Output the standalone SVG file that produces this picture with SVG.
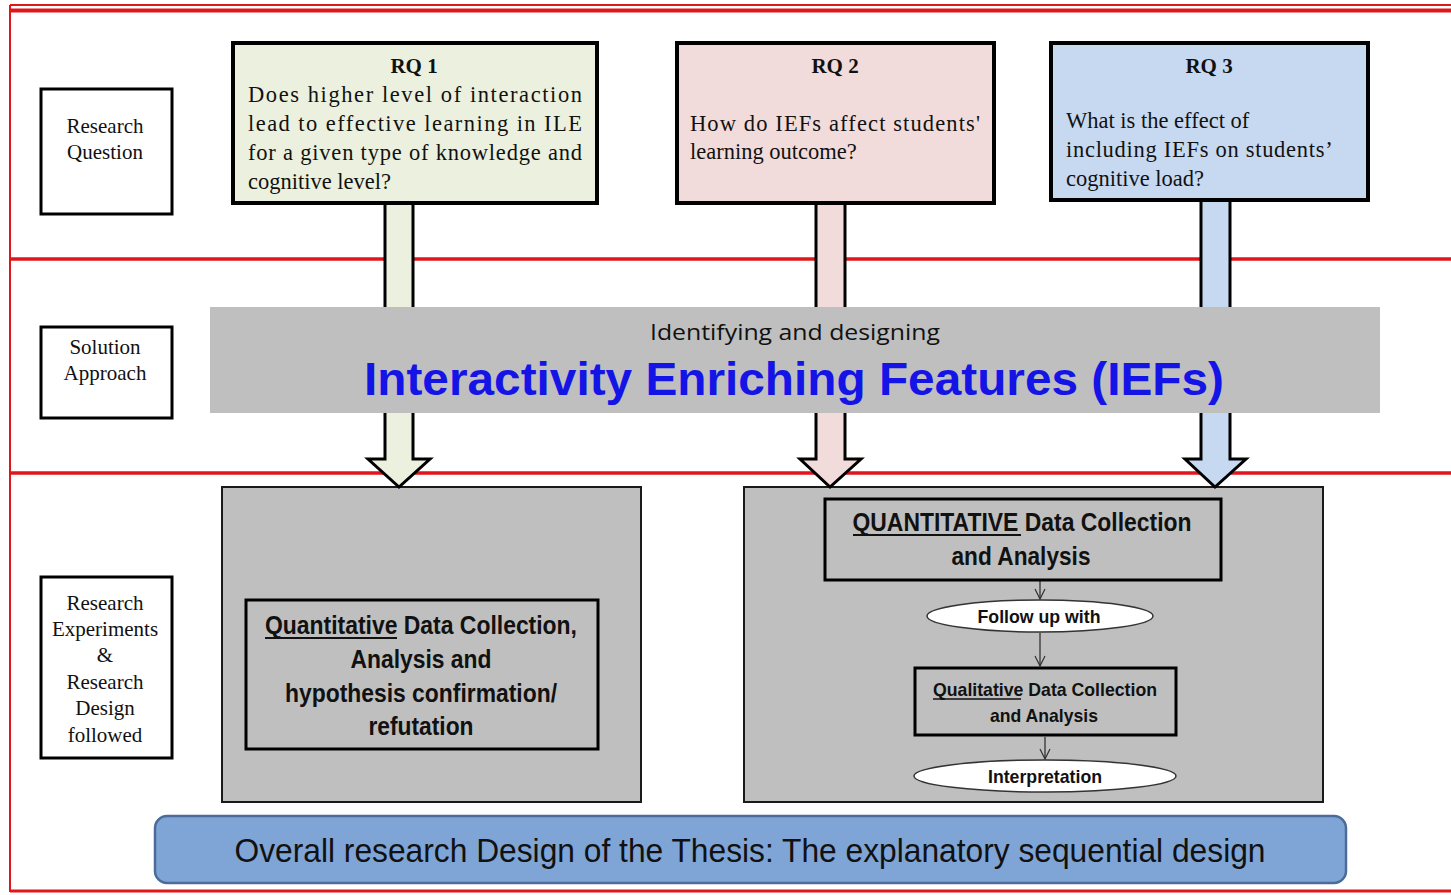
<svg xmlns="http://www.w3.org/2000/svg" width="1451" height="895" viewBox="0 0 1451 895">
  <style>
    .frame { stroke: #e0161b; fill: none; }
    .label { fill: #ffffff; stroke: #000; stroke-width: 3; }
    .serif { font-family: "Liberation Serif", "Times New Roman", serif; fill: #111; }
    .body { font-size: 22.5px; }
    .title { font-size: 21px; font-weight: bold; }
    .sans { font-family: "Liberation Sans", Arial, sans-serif; fill: #111; }
    .rq { stroke: #000; stroke-width: 4; }
    .arrow { stroke: #000; stroke-width: 3; stroke-linejoin: miter; }
    .panel { fill: #bfbfbf; stroke: #1a1a1a; stroke-width: 2; }
    .inner { fill: none; stroke: #000; stroke-width: 3; }
    .oval { fill: #fff; stroke: #333; stroke-width: 1.5; }
    .thin { stroke: #333; stroke-width: 1.3; fill: none; }
  </style>
  <defs>
    <!-- open V head pointing along the line direction -->
    <marker id="vhead" viewBox="0 0 12 12" refX="11" refY="6" markerWidth="12" markerHeight="12" markerUnits="userSpaceOnUse" orient="auto">
      <path d="M1,1 L11,6 L1,11" fill="none" stroke="#333" stroke-width="1.2"/>
    </marker>
  </defs>

  <rect x="0" y="0" width="1451" height="895" fill="#ffffff"/>

  <!-- page frame and row separators -->
  <g id="frame">
    <line class="frame" x1="10" y1="5" x2="1451" y2="5" stroke-width="2"/>
    <line class="frame" x1="10" y1="10.5" x2="1451" y2="10.5" stroke="#c8191e" stroke-width="4"/>
    <line class="frame" x1="10" y1="5" x2="10" y2="892" stroke-width="2"/>
    <line class="frame" x1="10" y1="891" x2="1451" y2="891" stroke-width="3"/>
    <line class="frame" x1="10" y1="259" x2="1451" y2="259" stroke-width="3.5"/>
    <line class="frame" x1="10" y1="473" x2="1451" y2="473" stroke-width="3.5"/>
  </g>

  <!-- row labels -->
  <g id="label-question">
    <rect class="label" x="41" y="89" width="131" height="125"/>
    <text class="serif" font-size="21" text-anchor="middle"><tspan x="105" y="133">Research</tspan><tspan x="105" y="159">Question</tspan></text>
  </g>
  <g id="label-approach">
    <rect class="label" x="41" y="327" width="131" height="91"/>
    <text class="serif" font-size="21" text-anchor="middle"><tspan x="105" y="354">Solution</tspan><tspan x="105" y="380">Approach</tspan></text>
  </g>
  <g id="label-design">
    <rect class="label" x="41" y="577" width="131" height="181"/>
    <text class="serif" font-size="21" text-anchor="middle"><tspan x="105" y="610">Research</tspan><tspan x="105" y="636">Experiments</tspan><tspan x="105" y="662">&amp;</tspan><tspan x="105" y="689">Research</tspan><tspan x="105" y="715">Design</tspan><tspan x="105" y="742">followed</tspan></text>
  </g>

  <!-- experiment panels -->
  <g id="experiment-quant-panel">
    <rect class="panel" x="222" y="487" width="419" height="315"/>
  </g>
  <g id="experiment-sequential">
    <rect class="panel" x="744" y="487" width="579" height="315"/>
  </g>

  <!-- block arrows from each question down to the experiments, and the step arrows -->
  <g id="connectors">
    <path class="arrow" fill="#ebf1de" d="M385,200 L413,200 L413,459 L430,459 L399,487 L368,459 L385,459 Z"/>
    <path class="arrow" fill="#f2dcdb" d="M816,200 L845,200 L845,459 L861,459 L830,487 L800,459 L816,459 Z"/>
    <path class="arrow" fill="#c6d9f1" d="M1201,198 L1230,198 L1230,459 L1246,459 L1215,487 L1185,459 L1201,459 Z"/>
    <line class="thin" x1="1040" y1="581" x2="1040" y2="599" marker-end="url(#vhead)"/>
    <line class="thin" x1="1040" y1="633" x2="1040" y2="666" marker-end="url(#vhead)"/>
    <line class="thin" x1="1045" y1="737" x2="1045" y2="759" marker-end="url(#vhead)"/>
  </g>

  <!-- research questions (justified lines stretched to the box width) -->
  <g id="rq1">
    <rect class="rq" x="233" y="43" width="364" height="160" fill="#ebf1de"/>
    <text class="serif title" x="414" y="73" text-anchor="middle">RQ 1</text>
    <text class="serif body">
      <tspan x="248" y="102" textLength="334" lengthAdjust="spacing">Does higher level of interaction</tspan>
      <tspan x="248" y="131" textLength="334" lengthAdjust="spacing">lead to effective learning in ILE</tspan>
      <tspan x="248" y="160" textLength="334" lengthAdjust="spacing">for a given type of knowledge and</tspan>
      <tspan x="248" y="189">cognitive level?</tspan>
    </text>
  </g>
  <g id="rq2">
    <rect class="rq" x="677" y="43" width="317" height="160" fill="#f2dcdb"/>
    <text class="serif title" x="835" y="73" text-anchor="middle">RQ 2</text>
    <text class="serif body">
      <tspan x="690" y="131" textLength="290" lengthAdjust="spacing">How do IEFs affect students'</tspan>
      <tspan x="690" y="159">learning outcome?</tspan>
    </text>
  </g>
  <g id="rq3">
    <rect class="rq" x="1051" y="43" width="317" height="157" fill="#c6d9f1"/>
    <text class="serif title" x="1209" y="73" text-anchor="middle">RQ 3</text>
    <text class="serif body">
      <tspan x="1066" y="128">What is the effect of</tspan>
      <tspan x="1066" y="157" textLength="265" lengthAdjust="spacing">including IEFs on students’</tspan>
      <tspan x="1066" y="186">cognitive load?</tspan>
    </text>
  </g>

  <!-- solution approach band -->
  <g id="approach">
    <rect x="210" y="307" width="1170" height="106" fill="#bfbfbf"/>
    <text x="795" y="340" font-family="'Open Sans', 'Liberation Sans', sans-serif" font-size="22" fill="#111" text-anchor="middle" textLength="290" lengthAdjust="spacingAndGlyphs">Identifying and designing</text>
    <text x="794" y="395" font-family="'Liberation Sans', Arial, sans-serif" font-size="46" font-weight="bold" fill="#1414e6" text-anchor="middle" textLength="860" lengthAdjust="spacingAndGlyphs">Interactivity Enriching Features (IEFs)</text>
  </g>

  <!-- experiment for RQ 1 -->
  <g id="experiment-quant">
    <rect class="inner" x="246" y="600" width="352" height="149"/>
    <g class="sans" font-size="25" font-weight="bold" text-anchor="middle">
      <text x="421" y="634" textLength="312" lengthAdjust="spacingAndGlyphs">Quantitative Data Collection,</text>
      <text x="421" y="668" textLength="141" lengthAdjust="spacingAndGlyphs">Analysis and</text>
      <text x="421" y="702" textLength="272" lengthAdjust="spacingAndGlyphs">hypothesis confirmation/</text>
      <text x="421" y="735" textLength="105" lengthAdjust="spacingAndGlyphs">refutation</text>
    </g>
    <line x1="265" y1="638" x2="397" y2="638" stroke="#111" stroke-width="2"/>
  </g>

  <!-- explanatory sequential steps -->
  <g id="quant-step">
    <rect class="inner" x="825" y="499" width="396" height="81"/>
    <g class="sans" font-size="25" font-weight="bold" text-anchor="middle">
      <text x="1022" y="531" textLength="339" lengthAdjust="spacingAndGlyphs">QUANTITATIVE Data Collection</text>
      <text x="1021" y="565" textLength="139" lengthAdjust="spacingAndGlyphs">and Analysis</text>
    </g>
    <line x1="853" y1="535" x2="1021" y2="535" stroke="#111" stroke-width="2"/>
  </g>
  <g id="follow-up">
    <ellipse class="oval" cx="1040" cy="616" rx="113" ry="16"/>
    <text class="sans" x="1039" y="623" font-size="19" font-weight="bold" text-anchor="middle" textLength="123" lengthAdjust="spacingAndGlyphs">Follow up with</text>
  </g>
  <g id="qual-step">
    <rect class="inner" x="915" y="668" width="261" height="67"/>
    <g class="sans" font-size="19" font-weight="bold" text-anchor="middle">
      <text x="1045" y="696" textLength="224" lengthAdjust="spacingAndGlyphs">Qualitative Data Collection</text>
      <text x="1044" y="722" textLength="108" lengthAdjust="spacingAndGlyphs">and Analysis</text>
    </g>
    <line x1="933" y1="699" x2="1021" y2="699" stroke="#111" stroke-width="1.5"/>
  </g>
  <g id="interpretation">
    <ellipse class="oval" cx="1045" cy="776" rx="131" ry="16"/>
    <text class="sans" x="1045" y="783" font-size="19" font-weight="bold" text-anchor="middle" textLength="114" lengthAdjust="spacingAndGlyphs">Interpretation</text>
  </g>

  <!-- overall design banner -->
  <g id="overall">
    <rect x="155" y="816" width="1191" height="67" rx="12" fill="#7fa5d6" stroke="#4b6c99" stroke-width="2.5"/>
    <text class="sans" x="750" y="862" font-size="34" fill="#141420" text-anchor="middle" textLength="1031" lengthAdjust="spacingAndGlyphs">Overall research Design of the Thesis: The explanatory sequential design</text>
  </g>
</svg>
